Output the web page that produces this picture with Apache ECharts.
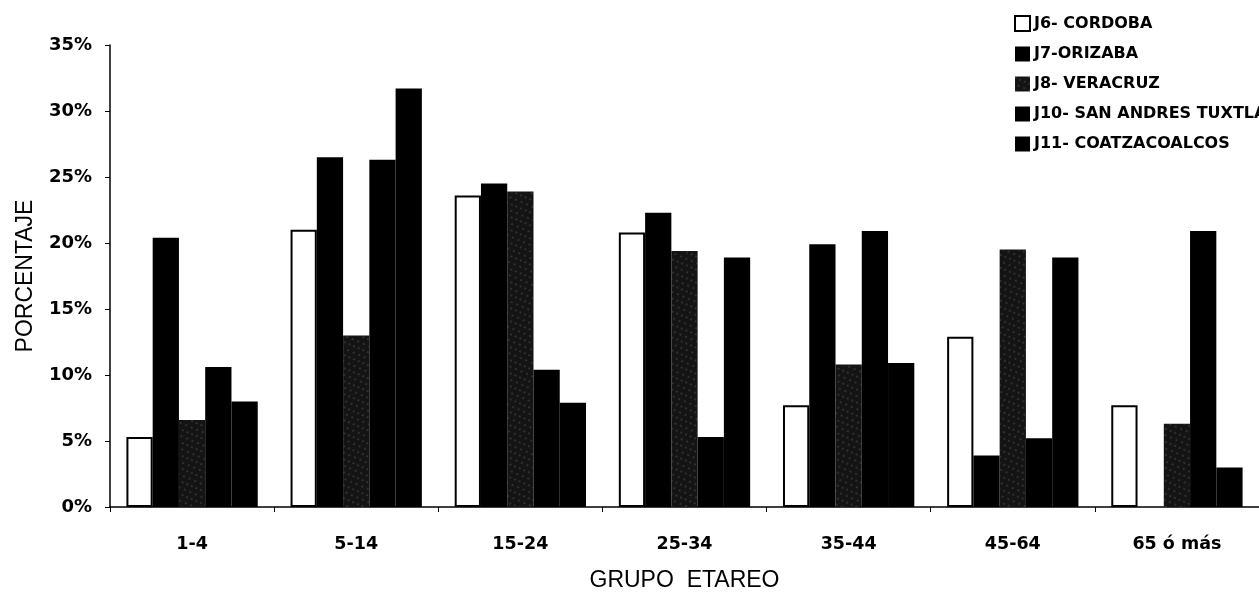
<!DOCTYPE html>
<html>
<head>
<meta charset="utf-8">
<script src="https://cdn.jsdelivr.net/npm/echarts@6/dist/echarts.min.js"></script>
<style>
html,body{margin:0;padding:0;background:#fff;}
#chart{width:1259px;height:594px;}
</style>
</head>
<body>
<div id="chart"></div>
<script>
const categories = ['1-4', '5-14', '15-24', '25-34', '35-44', '45-64', '65 ó más'];
const seriesNames = ['J6- CORDOBA', 'J7-ORIZABA', 'J8- VERACRUZ', 'J10- SAN ANDRES TUXTLA', 'J11- COATZACOALCOS'];
const j6 = [5.3, 21.0, 23.6, 20.8, 7.7, 12.9, 7.7];
const j7 = [20.4, 26.5, 24.5, 22.3, 19.9, 3.9, 0];
const j8 = [6.6, 13.0, 23.9, 19.4, 10.8, 19.5, 6.3];
const j10 = [10.6, 26.3, 10.4, 5.3, 20.9, 5.2, 20.9];
const j11 = [8.0, 31.7, 7.9, 18.9, 10.9, 18.9, 3.0];
const yTicks = [0, 5, 10, 15, 20, 25, 30, 35];

const BOLDFONT = 'DejaVu Sans, sans-serif';
const NAMEFONT = 'Liberation Sans, Arial, sans-serif';
const chart = echarts.init(document.getElementById('chart'));

const styles = [
  { color: '#ffffff', borderColor: '#000', borderWidth: 2 },
  { color: '#000000' },
  { color: '#141414', decal: { symbol: 'circle', symbolSize: 0.6, color: 'rgba(160,160,160,0.85)', dashArrayX: [[2, 4], [2, 3]], dashArrayY: [2, 4], rotation: 0.4 } },
  { color: '#000000' },
  { color: '#000000' }
];
const data = [j6, j7, j8, j10, j11];

chart.setOption({
  animation: false,
  backgroundColor: '#fff',
  legend: {
    orient: 'vertical',
    left: 1009,
    top: 10,
    itemWidth: 15,
    itemHeight: 15,
    itemGap: 14,
    icon: 'rect',
    textStyle: { fontFamily: BOLDFONT, fontWeight: 'bold', fontSize: 16, color: '#000', padding: [0, 0, 0, -1] },
    data: seriesNames
  },
  grid: { left: 110, right: 0, top: 45, bottom: 87, containLabel: false, outerBoundsMode: 'none' },
  xAxis: {
    type: 'category',
    data: categories,
    name: 'GRUPO  ETAREO',
    nameLocation: 'middle',
    nameGap: 62,
    nameTextStyle: { fontFamily: NAMEFONT, fontSize: 23, color: '#000' },
    axisLine: { lineStyle: { color: '#000', width: 1.5 } },
    axisTick: { show: true, length: 5, lineStyle: { color: '#000' } },
    axisLabel: { fontFamily: BOLDFONT, fontWeight: 'bold', fontSize: 17.5, color: '#000', margin: 28 }
  },
  yAxis: {
    type: 'value',
    min: 0,
    max: 35,
    interval: 5,
    name: 'PORCENTAJE',
    nameLocation: 'middle',
    nameGap: 73,
    nameTextStyle: { fontFamily: NAMEFONT, fontSize: 23, color: '#000' },
    axisLine: { show: true, lineStyle: { color: '#000', width: 1.5 } },
    axisTick: { show: true, length: 5, lineStyle: { color: '#000' } },
    splitLine: { show: false },
    axisLabel: {
      fontFamily: BOLDFONT, fontWeight: 'bold', fontSize: 18, color: '#000', margin: 18,
      formatter: v => yTicks.includes(v) ? v + '%' : ''
    }
  },
  series: seriesNames.map((n, i) => ({
    name: n,
    type: 'bar',
    data: data[i],
    barGap: '0%',
    barCategoryGap: '20%',
    itemStyle: styles[i]
  }))
});
</script>
</body>
</html>
